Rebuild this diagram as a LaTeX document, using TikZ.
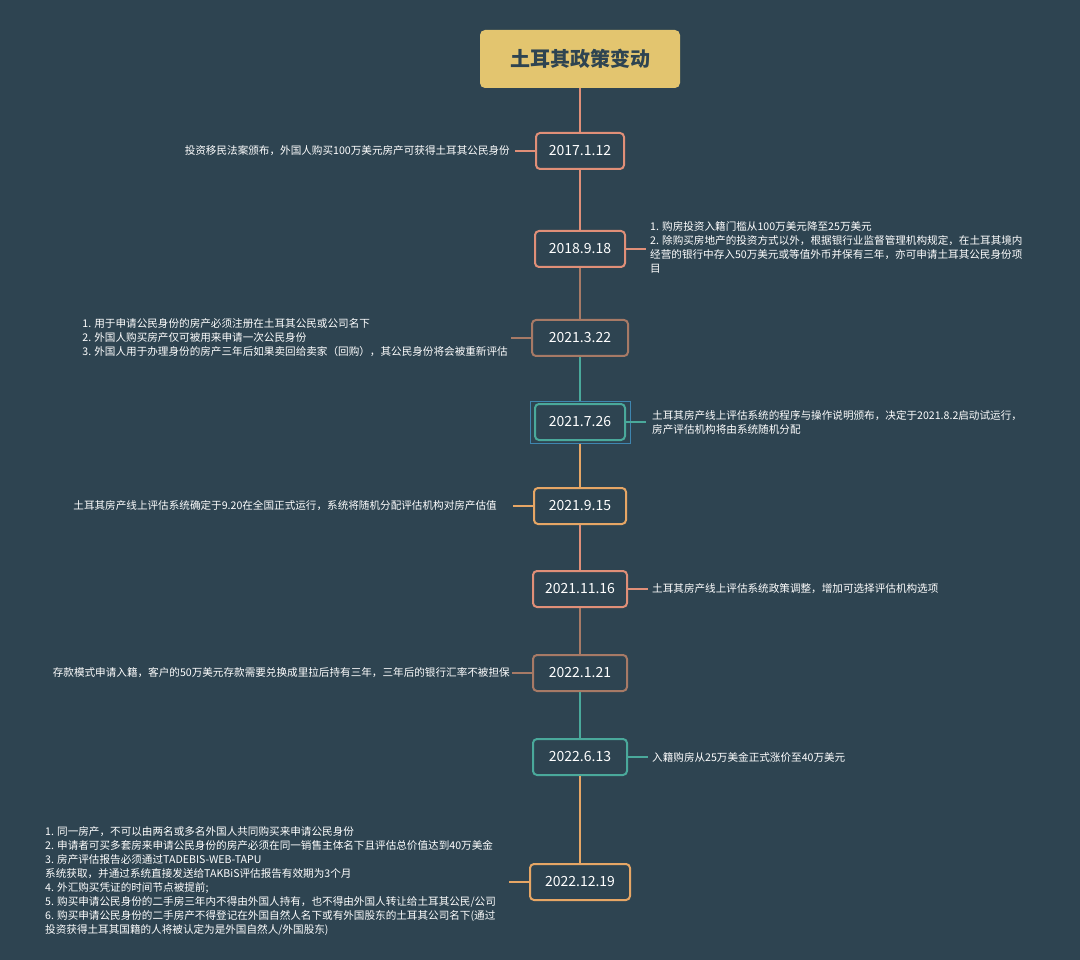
\documentclass[tikz,border=0pt]{standalone}
\usepackage{fontspec}
\setmainfont{Noto Sans CJK SC}
\begin{document}
\begin{tikzpicture}[x=1pt,y=-1pt,
 date/.style={draw=#1,line width=2pt,rounded corners=4pt,fill=bgc,text=white,font=\fontsize{14}{16}\selectfont,minimum height=36pt,inner xsep=6pt},
 note/.style={text=white,font=\fontsize{10.6}{14}\selectfont,align=left,inner sep=0pt},
 ln/.style={draw=#1,line width=2pt}]
\definecolor{bgc}{HTML}{2E4451}
\definecolor{salm}{HTML}{E08F78}
\definecolor{brn}{HTML}{A77A66}
\definecolor{teal}{HTML}{4AA99B}
\definecolor{orng}{HTML}{E6A665}
\definecolor{gold}{HTML}{E3C56F}
\definecolor{selc}{HTML}{3F86B0}
\fill[bgc] (0,0) rectangle (1080,960);
\useasboundingbox (0,0) rectangle (1080,960);
\node[fill=gold,rounded corners=5pt,minimum width=200pt,minimum height=58pt,text=bgc,font=\fontsize{20}{24}\selectfont\bfseries] (t) at (580,59) {土耳其政策变动};
\node[date=salm,minimum width=88pt] (d1) at (580,151) {2017.1.12};
\node[date=salm,minimum width=90pt] (d2) at (580,249) {2018.9.18};
\node[date=brn,minimum width=96pt] (d3) at (580,338) {2021.3.22};
\node[draw=selc,line width=1pt,minimum width=100pt,minimum height=42pt] (sel) at (580,422) {};
\node[date=teal,minimum width=90pt] (d4) at (580,422) {2021.7.26};
\node[date=orng,minimum width=92pt] (d5) at (580,506) {2021.9.15};
\node[date=salm,minimum width=94pt] (d6) at (580,589) {2021.11.16};
\node[date=brn,minimum width=94pt] (d7) at (580,673) {2022.1.21};
\node[date=teal,minimum width=94pt] (d8) at (580,757) {2022.6.13};
\node[date=orng,minimum width=100pt] (d9) at (580,882) {2022.12.19};
\draw[ln=salm] (t.south) -- (d1.north);
\draw[ln=salm] (d1.south) -- (d2.north);
\draw[ln=brn] (d2.south) -- (d3.north);
\draw[ln=teal] (d3.south) -- (sel.north);
\draw[ln=orng] (sel.south) -- (d5.north);
\draw[ln=salm] (d5.south) -- (d6.north);
\draw[ln=brn] (d6.south) -- (d7.north);
\draw[ln=teal] (d7.south) -- (d8.north);
\draw[ln=orng] (d8.south) -- (d9.north);
\node[note,anchor=east] (n1) at (510,151) {投资移民法案颁布，外国人购买100万美元房产可获得土耳其公民身份};
\node[note,anchor=north west] (n2) at (650,221) {1. 购房投资入籍门槛从100万美元降至25万美元\\2. 除购买房地产的投资方式以外，根据银行业监督管理机构规定，在土耳其境内\\经营的银行中存入50万美元或等值外币并保有三年，亦可申请土耳其公民身份项\\目};
\node[note,anchor=east] (n3) at (508,338) {1. 用于申请公民身份的房产必须注册在土耳其公民或公司名下\\2. 外国人购买房产仅可被用来申请一次公民身份\\3. 外国人用于办理身份的房产三年后如果卖回给卖家（回购），其公民身份将会被重新评估};
\node[note,anchor=west] (n4) at (652,422) {土耳其房产线上评估系统的程序与操作说明颁布，决定于2021.8.2启动试运行，\\房产评估机构将由系统随机分配};
\node[note,anchor=east] (n5) at (497,506) {土耳其房产线上评估系统确定于9.20在全国正式运行，系统将随机分配评估机构对房产估值};
\node[note,anchor=west] (n6) at (652,589) {土耳其房产线上评估系统政策调整，增加可选择评估机构选项};
\node[note,anchor=east] (n7) at (510,673) {存款模式申请入籍，客户的50万美元存款需要兑换成里拉后持有三年，三年后的银行汇率不被担保};
\node[note,anchor=west] (n8) at (652,757) {入籍购房从25万美金正式涨价至40万美元};
\node[note,anchor=north west] (n9) at (45,826) {1. 同一房产，不可以由两名或多名外国人共同购买来申请公民身份\\2. 申请者可买多套房来申请公民身份的房产必须在同一销售主体名下且评估总价值达到40万美金\\3. 房产评估报告必须通过TADEBIS-WEB-TAPU\\系统获取，并通过系统直接发送给TAKBiS评估报告有效期为3个月\\4. 外汇购买凭证的时间节点被提前;\\5. 购买申请公民身份的二手房三年内不得由外国人持有，也不得由外国人转让给土耳其公民/公司\\6. 购买申请公民身份的二手房产不得登记在外国自然人名下或有外国股东的土耳其公司名下(通过\\投资获得土耳其国籍的人将被认定为是外国自然人/外国股东)};
\draw[ln=salm] (d1.west) -- ++(-20,0);
\draw[ln=salm] (d2.east) -- ++(20,0);
\draw[ln=brn] (d3.west) -- ++(-20,0);
\draw[ln=teal] (d4.east) -- ++(20,0);
\draw[ln=orng] (d5.west) -- ++(-20,0);
\draw[ln=salm] (d6.east) -- ++(20,0);
\draw[ln=brn] (d7.west) -- ++(-20,0);
\draw[ln=teal] (d8.east) -- ++(20,0);
\draw[ln=orng] (d9.west) -- ++(-20,0);
\end{tikzpicture}
\end{document}
